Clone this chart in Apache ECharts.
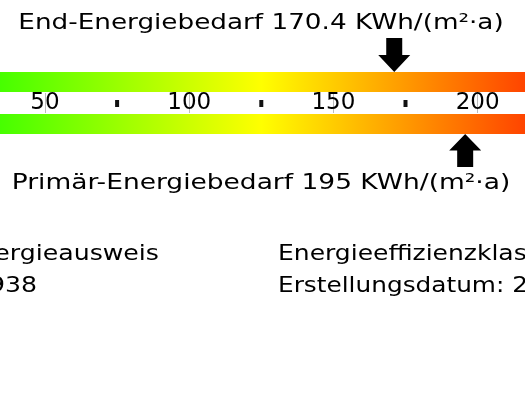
<!DOCTYPE html>
<html>
<head>
<meta charset="utf-8">
<script src="https://cdn.jsdelivr.net/npm/echarts@6/dist/echarts.min.js"></script>
<style>html,body{margin:0;padding:0;background:#fff;}#c{width:525px;height:394px;}</style>
</head>
<body>
<div id="c"></div>
<script>
// ---- data ----
const scaleMin = 0;
const scaleMax = 250;
const scaleStep = 25;
const scaleLabelStep = 50;
const gradientColors = ['#00ff00', '#ffff00', '#ff0000'];
const endEnergy = 170.4;
const primaryEnergy = 195;
const endLabel = 'End-Energiebedarf 170.4 KWh/(m²·a)';
const primaryLabel = 'Primär-Energiebedarf 195 KWh/(m²·a)';
const infoLeft = ['Energieausweis', 'Baujahr: 1938'];
const infoRight = ['Energieeffizienzklasse: F', 'Erstellungsdatum: 2019'];

const FONT = 'DejaVu Sans';
const chart = echarts.init(document.getElementById('c'), null, {renderer: 'canvas'});

const pxPerUnit = 2.884;
const gridLeft = 45 - 50 * pxPerUnit;
const gridWidth = (scaleMax - scaleMin) * pxPerUnit;

const grad = {
  type: 'linear', x: 0, y: 0, x2: 1, y2: 0,
  colorStops: gradientColors.map((c, i) => ({offset: i / (gradientColors.length - 1), color: c}))
};

const downArrow = 'path://M8,0 L24,0 L24,17 L32,17 L16,34 L0,17 L8,17 Z';
const upArrow = 'path://M16,0 L32,17 L24,17 L24,34 L8,34 L8,17 L0,17 Z';

function xAxisBase(gi) {
  return {type: 'value', gridIndex: gi, min: scaleMin, max: scaleMax, interval: scaleStep,
    axisLine: {show: false}, axisTick: {show: false}, axisLabel: {show: false}, splitLine: {show: false}};
}
function gridAt(top) {
  return {left: gridLeft, width: gridWidth, top: top, height: 20, outerBoundsMode: 'none', containLabel: false};
}
function txt(t, x, y, align, sx) {
  return {type: 'text', x: x, y: y, scaleX: sx, scaleY: 1,
    style: {text: t, fontFamily: FONT, fontSize: 21, fill: '#000', align: align, verticalAlign: 'middle'}};
}

const option = {
  animation: false,
  grid: [gridAt(72), gridAt(114), gridAt(93)],
  xAxis: [
    xAxisBase(0),
    Object.assign(xAxisBase(1), {
      position: 'top',
      axisLabel: {
        show: true, margin: 10.5, verticalAlign: 'middle', color: '#000',
        fontFamily: FONT, fontSize: 23,
        formatter: v => (v % scaleLabelStep === 0 ? String(v) : '{d| }'),
        rich: {d: {width: 4, height: 7, backgroundColor: '#111', fontSize: 1, lineHeight: 7}}
      }
    }),
    Object.assign(xAxisBase(2), {
      interval: scaleLabelStep,
      splitLine: {show: true, lineStyle: {color: '#bbbbbb', width: 1}}
    })
  ],
  yAxis: [0, 1, 2].map(gi => ({type: 'category', gridIndex: gi, data: ['x'], show: false})),
  series: [
    {type: 'bar', xAxisIndex: 0, yAxisIndex: 0, data: [scaleMax], barWidth: 20, itemStyle: {color: grad}, silent: true},
    {type: 'bar', xAxisIndex: 1, yAxisIndex: 1, data: [scaleMax], barWidth: 20, itemStyle: {color: grad}, silent: true},
    {type: 'scatter', xAxisIndex: 0, yAxisIndex: 0, data: [[endEnergy, 'x']], symbol: downArrow,
      symbolSize: [32, 34], symbolOffset: [2, -27], itemStyle: {color: '#000', opacity: 1}, silent: true},
    {type: 'scatter', xAxisIndex: 1, yAxisIndex: 1, data: [[primaryEnergy, 'x']], symbol: upArrow,
      symbolSize: [32, 33], symbolOffset: [2, 26.5], itemStyle: {color: '#000', opacity: 1}, silent: true}
  ],
  graphic: [
    txt(endLabel, 261, 24, 'center', 1.25),
    txt(primaryLabel, 261, 184, 'center', 1.26),
    txt(infoLeft[0], 159, 255, 'right', 1.2),
    txt(infoLeft[1], 37, 287, 'right', 1.2),
    txt(infoRight[0], 278, 255, 'left', 1.19),
    txt(infoRight[1], 278, 287, 'left', 1.18)
  ]
};
chart.setOption(option);
</script>
</body>
</html>
